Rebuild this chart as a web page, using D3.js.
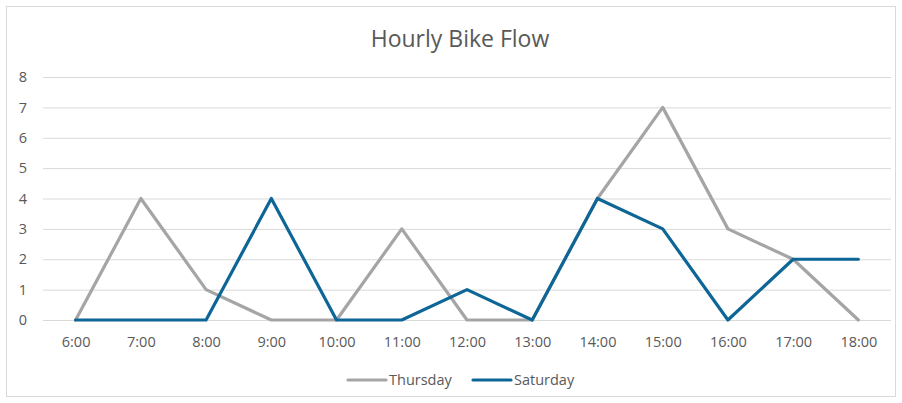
<!DOCTYPE html>
<html>
<head>
<meta charset="utf-8">
<script src="https://cdn.jsdelivr.net/npm/d3@7"></script>
<style>
  html, body { margin: 0; padding: 0; background: #fff; }
  svg { display: block; font-family: "Open Sans", "Noto Sans", sans-serif; }
</style>
</head>
<body>
<svg id="chart" width="902" height="403"></svg>
<script>
const hours = ["6:00","7:00","8:00","9:00","10:00","11:00","12:00","13:00","14:00","15:00","16:00","17:00","18:00"];
const thursday = [0,4,1,0,0,3,0,0,4,7,3,2,0];
const saturday = [0,0,0,4,0,0,1,0,4,3,0,2,2];
const yTicks = [0,1,2,3,4,5,6,7,8];
const seriesNames = ["Thursday","Saturday"];
const seriesColors = ["#A5A5A5","#0E6697"];

const svg = d3.select("#chart");
const W = 902, H = 403;
const plot = {left: 43, right: 891, top: 77, bottom: 320};
const labelFont = 14.5;

// outer chart frame
svg.append("rect")
  .attr("x", 6.5).attr("y", 6.5)
  .attr("width", W - 13).attr("height", H - 13)
  .attr("fill", "#fff").attr("stroke", "#d9d9d9").attr("stroke-width", 1);

// title
svg.append("text")
  .attr("x", 460).attr("y", 47)
  .attr("text-anchor", "middle")
  .attr("font-size", 23)
  .attr("fill", "#595959")
  .text("Hourly Bike Flow");

const x = d3.scalePoint().domain(hours).range([plot.left, plot.right]).padding(0.5);
const y = d3.scaleLinear().domain([0, 8]).range([plot.bottom, plot.top]);

// horizontal gridlines with value labels
const yAxis = d3.axisLeft(y).tickValues(yTicks).tickSize(-(plot.right - plot.left)).tickPadding(16);
const gy = svg.append("g").attr("transform", `translate(${plot.left},0)`).call(yAxis);
gy.select(".domain").remove();
gy.selectAll(".tick line").attr("stroke", "#d9d9d9").attr("stroke-width", 1);
gy.selectAll(".tick text").attr("fill", "#595959").attr("font-size", labelFont)
  .attr("font-family", "'Open Sans', sans-serif");

// category axis labels
const xAxis = d3.axisBottom(x).tickSize(0).tickPadding(17);
const gx = svg.append("g").attr("transform", `translate(0,${plot.bottom})`).call(xAxis);
gx.select(".domain").remove();
gx.selectAll(".tick text").attr("fill", "#595959").attr("font-size", labelFont)
  .attr("font-family", "'Open Sans', sans-serif");

// series lines
const line = d3.line().x((d, i) => x(hours[i])).y(d => y(d));
[thursday, saturday].forEach((vals, k) => {
  svg.append("path")
    .datum(vals)
    .attr("d", line)
    .attr("fill", "none")
    .attr("stroke", seriesColors[k])
    .attr("stroke-width", 3.2)
    .attr("stroke-linejoin", "round")
    .attr("stroke-linecap", "round");
});

// legend
const legendY = 380;
const legendX = [348, 473];
seriesNames.forEach((name, k) => {
  const g = svg.append("g").attr("transform", `translate(${legendX[k]},${legendY})`);
  g.append("line").attr("x1", 0).attr("x2", 38).attr("y1", 0).attr("y2", 0)
    .attr("stroke", seriesColors[k]).attr("stroke-width", 3.2).attr("stroke-linecap", "round");
  g.append("text").attr("x", 41).attr("y", 5)
    .attr("font-size", labelFont).attr("fill", "#595959").text(name);
});
</script>
</body>
</html>
